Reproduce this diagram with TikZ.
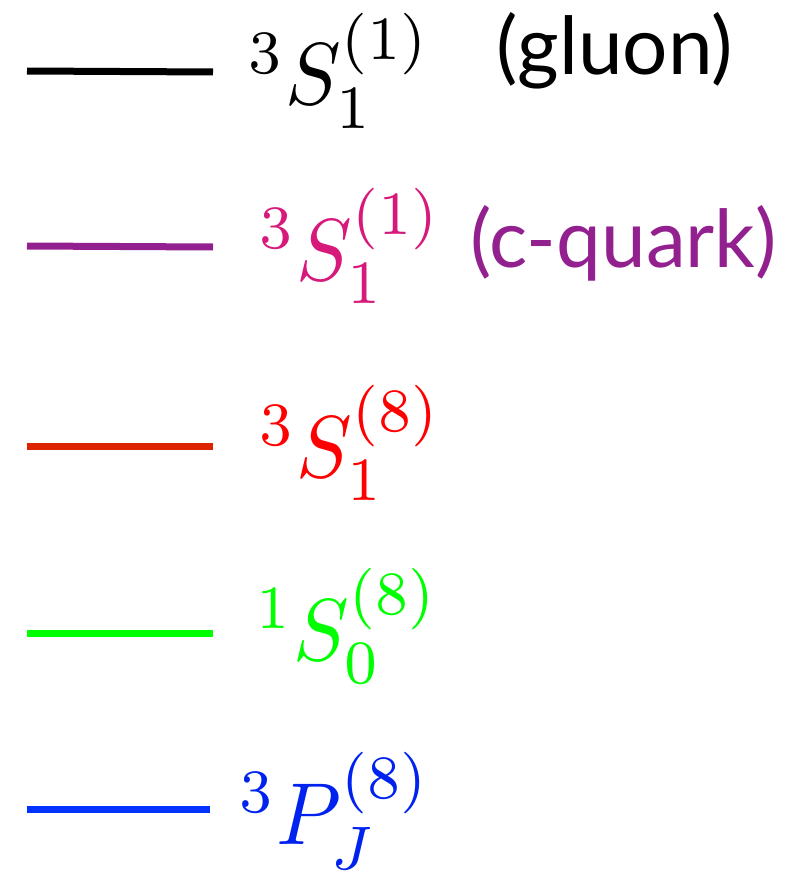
\documentclass[tikz,border=0pt]{standalone}
\usepackage{fontspec}
\newfontfamily\labfont{Lato}
\definecolor{cqpurple}{HTML}{93208F}
\definecolor{cqpink}{HTML}{D6197A}
\definecolor{redline}{HTML}{DD2200}
\definecolor{greenline}{HTML}{00FF00}
\definecolor{blueline}{HTML}{0033FF}
\definecolor{bluetext}{HTML}{0022EE}
\tikzset{
  legline/.style={line width=7pt},
  mathlab/.style={inner sep=0pt, anchor=base west, xscale=8.3, yscale=8.8, transform shape},
  wordlab/.style={inner sep=0pt, anchor=base west, font=\labfont\fontsize{80}{90}\selectfont},
}
\begin{document}
\begin{tikzpicture}[x=1pt,y=-1pt]
\useasboundingbox (0,0) rectangle (788,880);
% row 1
\coordinate (a1) at (27,71); \coordinate (b1) at (213,72);
\draw[legline, black] (a1) -- (b1);
\node[mathlab, black] (m1) at (247,105) {${}^3S_1^{(1)}$};
\node[wordlab, black] (w1) at (496,75) {(gluon)};
% row 2
\coordinate (a2) at (27,246); \coordinate (b2) at (213,247);
\draw[legline, cqpurple] (a2) -- (b2);
\node[mathlab, cqpink] (m2) at (258,280) {${}^3S_1^{(1)}$};
\node[wordlab, cqpurple] (w2) at (470,267) {(c-quark)};
% row 3
\coordinate (a3) at (27,446); \coordinate (b3) at (213,446);
\draw[legline, redline] (a3) -- (b3);
\node[mathlab, red] (m3) at (258,477) {${}^3S_1^{(8)}$};
% row 4
\coordinate (a4) at (27,633); \coordinate (b4) at (213,633);
\draw[legline, greenline] (a4) -- (b4);
\node[mathlab, greenline] (m4) at (255,660) {${}^1S_0^{(8)}$};
% row 5
\coordinate (a5) at (27,809); \coordinate (b5) at (210,809);
\draw[legline, blueline] (a5) -- (b5);
\node[mathlab, bluetext] (m5) at (238,844) {${}^3P_J^{(8)}$};
\end{tikzpicture}
\end{document}
